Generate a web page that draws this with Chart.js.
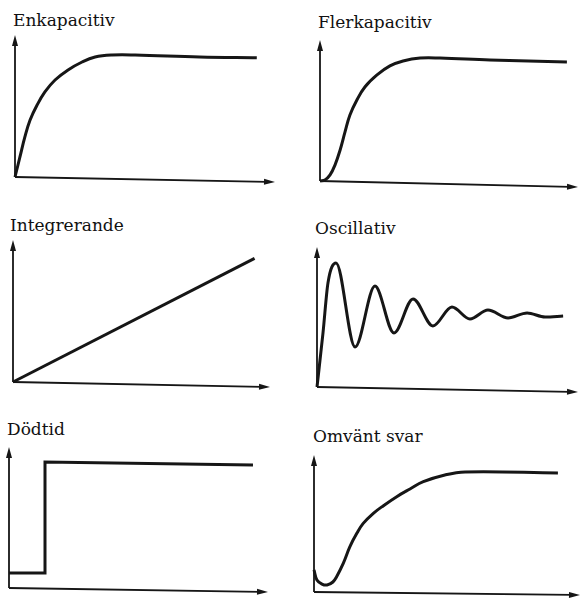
<!DOCTYPE html>
<html lang="sv">
<head>
<meta charset="UTF-8">
<title>Processtyper</title>
<script src="https://cdn.jsdelivr.net/npm/chart.js"></script>
<style>
  body { margin: 0; background: #fff; width: 581px; height: 598px; position: relative; overflow: hidden; }
  .title { position: absolute; font-family: "DejaVu Serif", serif; font-size: 17px; line-height: 17px; color: #111; white-space: nowrap; }
  canvas { position: absolute; }
</style>
</head>
<body>
<script>
// curves in percent of each axis length (x: 0-100 along time axis, y: 0-100 up the value axis)
const enkapX = [0, 1.9, 3.8, 5.8, 8.5, 11.5, 15.4, 20.4, 25.8, 30.8, 37.3, 46.2, 71, 93];
const enkapY = [0, 14.1, 28.2, 40.1, 50.7, 59.9, 68.3, 75.4, 81, 84.5, 85.9, 85.9, 84.5, 84];

const flerkapX = [0, 1.9, 3.9, 5.8, 7.8, 9.7, 11.6, 14.3, 17.4, 22.1, 27.1, 32.2, 38.8, 46.5, 65.9, 95.7];
const flerkapY = [0, 0.7, 4.3, 11.3, 22, 34.8, 46.8, 57.4, 66.7, 75.2, 81.6, 85.1, 87.2, 87.2, 85.8, 84.4];

const integrX = [0, 94];
const integrY = [0, 87];

const oscX = [0, 2.3, 4.2, 7.3, 14.6, 22.2, 29.5, 36.8, 44.4, 51.7, 58.6, 65.5, 73.2, 80.5, 87.4, 94.3];
const oscY = [0, 38.6, 74.3, 88.6, 28.6, 72.1, 38.6, 62.9, 43.6, 57.1, 48.6, 55, 49.3, 52.9, 50, 50.7];

const dodX = [0, 13.9, 13.9, 94.2];
const dodY = [10.6, 10.6, 89.4, 87.2];

const omvX = [0, 1.1, 3.0, 4.9, 7.1, 8.5, 11.0, 13.5, 16.1, 18.5, 22.3, 26.1, 31.1, 36.1, 41.1, 49.2, 56.8, 91.7];
const omvY = [16.1, 8.8, 5.8, 5.1, 7.3, 11.2, 20.9, 33.1, 42.8, 50.1, 57.4, 63.0, 69.6, 75.2, 80.5, 85.4, 87.6, 86.9];

const titles = ['Enkapacitiv', 'Flerkapacitiv', 'Integrerande', 'Oscillativ', 'Dödtid', 'Omvänt svar'];

const ink = '#161616';

// layout of each panel: axis origin, axis tips, slight skew of the scanned x-axis, title spot
// curve: 'bezier' smooth, 'monotone' for the ringing, 'straight' for lines and steps
const panels = [
  { xs: enkapX, ys: enkapY, curve: 'bezier', ox: 15, oy: 177, xTip: 275, yTip: 35, tilt: 5, tx: 13, tb: 26 },
  { xs: flerkapX, ys: flerkapY, curve: 'bezier', ox: 320, oy: 181, xTip: 578, yTip: 40, tilt: 6, tx: 318, tb: 28 },
  { xs: integrX, ys: integrY, curve: 'straight', ox: 13, oy: 382, xTip: 270, yTip: 240, tilt: 5, tx: 10, tb: 231 },
  { xs: oscX, ys: oscY, curve: 'monotone', ox: 317, oy: 387, xTip: 578, yTip: 247, tilt: 5, tx: 315, tb: 234 },
  { xs: dodX, ys: dodY, curve: 'straight', ox: 9, oy: 588, xTip: 268, yTip: 447, tilt: 4, tx: 7, tb: 435 },
  { xs: omvX, ys: omvY, curve: 'bezier', ox: 314, oy: 592, xTip: 580, yTip: 455, tilt: 3, tx: 313, tb: 442 }
];

function arrowHead(ctx, x, y, dx, dy) {
  const len = 11, half = 3;
  const bx = x - dx * len, by = y - dy * len;
  ctx.beginPath();
  ctx.moveTo(x, y);
  ctx.lineTo(bx - dy * half, by + dx * half);
  ctx.lineTo(bx + dy * half, by - dx * half);
  ctx.closePath();
  ctx.fill();
}

const axesArrows = {
  id: 'axesArrows',
  beforeDatasetsDraw(chart, args, opts) {
    const { ctx, chartArea: a } = chart;
    const tilt = opts.tilt || 0;
    ctx.save();
    ctx.strokeStyle = ink;
    ctx.fillStyle = ink;
    ctx.lineWidth = 1.8;
    // value axis
    ctx.beginPath();
    ctx.moveTo(a.left, a.bottom);
    ctx.lineTo(a.left, a.top + 8);
    ctx.stroke();
    arrowHead(ctx, a.left, a.top, 0, -1);
    // time axis
    const w = a.right - a.left;
    const n = Math.hypot(w, tilt);
    const dx = w / n, dy = tilt / n;
    ctx.beginPath();
    ctx.moveTo(a.left, a.bottom);
    ctx.lineTo(a.right - dx * 8, a.bottom + tilt - dy * 8);
    ctx.stroke();
    arrowHead(ctx, a.right, a.bottom + tilt, dx, dy);
    ctx.restore();
  }
};

const pad = { left: 10, top: 4, right: 6, bottom: 12 };

panels.forEach((p, i) => {
  const t = document.createElement('div');
  t.className = 'title';
  t.textContent = titles[i];
  t.style.left = p.tx + 'px';
  t.style.top = (p.tb - 14.4) + 'px';
  document.body.appendChild(t);

  const c = document.createElement('canvas');
  const w = p.xTip - p.ox + pad.left + pad.right;
  const h = p.oy - p.yTip + pad.top + pad.bottom;
  c.width = w;
  c.height = h;
  c.style.width = w + 'px';
  c.style.height = h + 'px';
  c.style.left = (p.ox - pad.left) + 'px';
  c.style.top = (p.yTip - pad.top) + 'px';
  document.body.appendChild(c);

  new Chart(c, {
    type: 'line',
    data: {
      datasets: [{
        data: p.xs.map((x, k) => ({ x: x, y: p.ys[k] })),
        borderColor: ink,
        borderWidth: 3,
        pointRadius: 0,
        fill: false,
        clip: false,
        tension: p.curve === 'bezier' ? 0.4 : 0,
        cubicInterpolationMode: p.curve === 'monotone' ? 'monotone' : 'default',
        borderCapStyle: 'butt',
        borderJoinStyle: p.curve === 'straight' ? 'miter' : 'round'
      }]
    },
    options: {
      responsive: false,
      animation: false,
      devicePixelRatio: 1,
      events: [],
      layout: { padding: pad },
      plugins: {
        legend: { display: false },
        tooltip: { enabled: false },
        axesArrows: { tilt: p.tilt }
      },
      scales: {
        x: { type: 'linear', display: false, min: 0, max: 100 },
        y: { type: 'linear', display: false, min: 0, max: 100 }
      }
    },
    plugins: [axesArrows]
  });
});
</script>
</body>
</html>
